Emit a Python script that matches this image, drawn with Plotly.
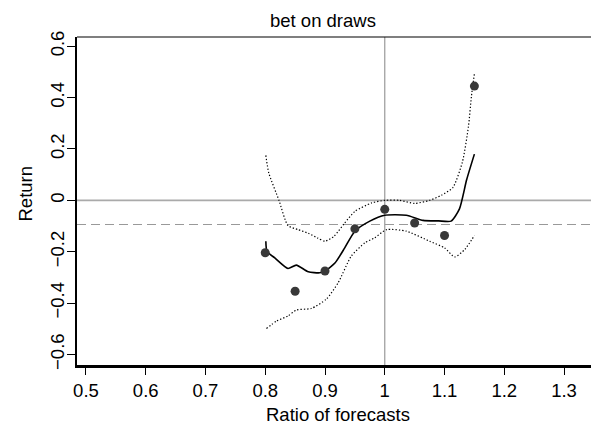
import plotly.graph_objects as go

# Observed returns per ratio bin
obs_x = [0.80, 0.85, 0.90, 0.95, 1.00, 1.05, 1.10, 1.15]
obs_y = [-0.204, -0.354, -0.275, -0.111, -0.035, -0.088, -0.137, 0.445]

# Smoothed fit
fit_x = [0.801, 0.803, 0.816, 0.838, 0.852, 0.872, 0.891, 0.900, 0.917, 0.933, 0.950,
         0.975, 1.000, 1.036, 1.064, 1.090, 1.111, 1.125, 1.137, 1.150]
fit_y = [-0.159, -0.200, -0.224, -0.265, -0.252, -0.278, -0.282, -0.275, -0.243, -0.185, -0.120,
         -0.081, -0.058, -0.058, -0.078, -0.080, -0.081, -0.033, 0.080, 0.180]

# Upper confidence band
upper_x = [0.801, 0.806, 0.823, 0.838, 0.855, 0.872, 0.888, 0.900, 0.915, 0.933, 0.950,
           0.978, 1.000, 1.025, 1.050, 1.075, 1.095, 1.114, 1.130, 1.140, 1.145, 1.150]
upper_y = [0.175, 0.106, 0.000, -0.098, -0.114, -0.128, -0.147, -0.159, -0.140, -0.088, -0.043,
           -0.010, 0.000, 0.000, -0.012, 0.000, 0.020, 0.050, 0.150, 0.287, 0.404, 0.494]

# Lower confidence band
lower_x = [0.802, 0.819, 0.838, 0.852, 0.877, 0.902, 0.922, 0.944, 0.967, 0.983, 1.003,
           1.036, 1.075, 1.100, 1.117, 1.134, 1.150]
lower_y = [-0.499, -0.470, -0.450, -0.427, -0.421, -0.385, -0.321, -0.217, -0.165, -0.146, -0.114,
           -0.120, -0.159, -0.185, -0.220, -0.191, -0.137]

mean_return = -0.094

x_ticks = [0.5, 0.6, 0.7, 0.8, 0.9, 1.0, 1.1, 1.2, 1.3]
x_labels = ["0.5", "0.6", "0.7", "0.8", "0.9", "1", "1.1", "1.2", "1.3"]
y_ticks = [-0.6, -0.4, -0.2, 0.0, 0.2, 0.4, 0.6]
y_labels = ["\u22120.6", "\u22120.4", "\u22120.2", "0", "0.2", "0.4", "0.6"]

FONT = "Liberation Sans, Arial, Helvetica, sans-serif"
FS = 18.5
DOT = "1.3px,2px"

fig = go.Figure()
fig.add_trace(go.Scatter(x=upper_x, y=upper_y, mode="lines",
                         line=dict(color="black", width=1.2, dash=DOT, shape="spline", smoothing=0.6)))
fig.add_trace(go.Scatter(x=lower_x, y=lower_y, mode="lines",
                         line=dict(color="black", width=1.2, dash=DOT, shape="spline", smoothing=0.6)))
fig.add_trace(go.Scatter(x=fit_x, y=fit_y, mode="lines",
                         line=dict(color="black", width=1.6, shape="spline", smoothing=0.6)))
fig.add_trace(go.Scatter(x=obs_x, y=obs_y, mode="markers",
                         marker=dict(color="#383838", size=9)))

shapes = [
    dict(type="line", xref="paper", yref="y", x0=0, x1=1, y0=0, y1=0,
         line=dict(color="#aaaaaa", width=1.6), layer="below"),
    dict(type="line", xref="paper", yref="y", x0=0, x1=1, y0=mean_return, y1=mean_return,
         line=dict(color="#999999", width=1.2, dash="9px,5px"), layer="below"),
    dict(type="line", xref="x", yref="paper", x0=1.0, x1=1.0, y0=0, y1=1,
         line=dict(color="#999999", width=1.2), layer="below"),
    dict(type="line", xref="paper", yref="paper", x0=0, x1=1, y0=1, y1=1,
         line=dict(color="black", width=1.2)),
]

annotations = [
    dict(text="bet on draws", xref="paper", yref="paper", x=(323 - 77) / 522, y=1,
         yshift=4, xanchor="center", yanchor="bottom", showarrow=False,
         font=dict(size=FS, color="black", family=FONT)),
    dict(text="Ratio of forecasts", xref="paper", yref="paper", x=(337.5 - 77) / 522, y=0,
         yshift=-37, xanchor="center", yanchor="top", showarrow=False,
         font=dict(size=FS, color="black", family=FONT)),
    dict(text="Return", xref="paper", yref="paper", x=0, xshift=-52, y=(365 - 193.5) / 328,
         xanchor="center", yanchor="middle", textangle=-90, showarrow=False,
         font=dict(size=FS, color="black", family=FONT)),
]

# the page body adds an 8px offset; the figure is sized to fill the rest of the window
fig.update_layout(
    width=591, height=416,
    margin=dict(l=69, r=0, t=29, b=59, autoexpand=False),
    paper_bgcolor="white", plot_bgcolor="white",
    showlegend=False,
    font=dict(family=FONT, size=FS, color="black"),
    shapes=shapes, annotations=annotations,
    xaxis=dict(range=[0.485, 1.3585], tickvals=x_ticks, ticktext=x_labels,
               showgrid=False, zeroline=False, showline=True, linecolor="black", linewidth=2.5,
               ticks="outside", ticklen=7, tickwidth=1.2, tickcolor="black",
               tickfont=dict(size=FS), automargin=False),
    yaxis=dict(range=[-0.641, 0.636], tickvals=y_ticks, ticktext=y_labels,
               showgrid=False, zeroline=False, showline=True, linecolor="black", linewidth=2,
               ticks="outside", ticklen=8, tickwidth=1.2, tickcolor="black", tickangle=-90,
               tickfont=dict(size=FS), ticklabelstandoff=-4, automargin=False),
)

fig.write_html("out.html")
